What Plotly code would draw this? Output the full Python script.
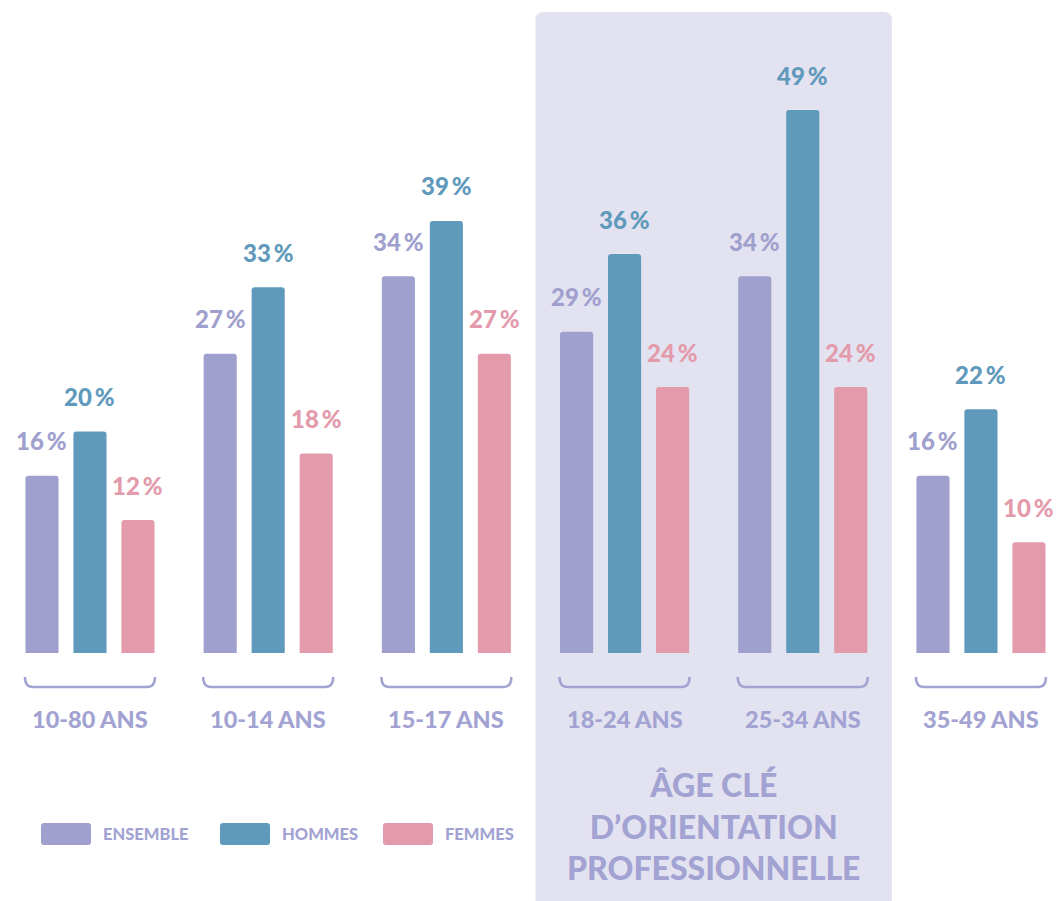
import plotly.graph_objects as go

categories = ["10-80 ANS", "10-14 ANS", "15-17 ANS", "18-24 ANS", "25-34 ANS", "35-49 ANS"]
series_names = ["ENSEMBLE", "HOMMES", "FEMMES"]
ensemble = [16, 27, 34, 29, 34, 16]
hommes = [20, 33, 39, 36, 49, 22]
femmes = [12, 18, 27, 24, 24, 10]
highlight_note = ["ÂGE CLÉ", "D’ORIENTATION", "PROFESSIONNELLE"]

colors = ["#9fa0cd", "#5f99bb", "#e39aaa"]
text_col = "#a2a3d2"
bg_high = "#e3e2f0"
FONT = "Lato"

W, H = 1059, 901
BOTTOM = 248
PX_PER_UNIT = 11.08
BARGAP = 0.192
slot = (1 - BARGAP) / 3

fig = go.Figure()
values = [ensemble, hommes, femmes]
idx = list(range(len(categories)))
for k, (name, vals) in enumerate(zip(series_names, values)):
    fig.add_trace(go.Bar(
        x=idx, y=vals, name=name,
        marker=dict(color=colors[k], cornerradius=3, line=dict(width=0)),
        showlegend=False, hoverinfo="skip",
    ))

annotations = []
# value labels
for k, vals in enumerate(values):
    for i, v in enumerate(vals):
        annotations.append(dict(
            x=i + (k - 1) * slot, y=v, xref="x", yref="y",
            text=f"{v}\u2009%", showarrow=False, yshift=35,
            yanchor="middle", xanchor="center",
            font=dict(family=FONT, size=24, color=colors[k], weight=900),
        ))

plot_h = H - BOTTOM
def py(px):
    return (plot_h - px) / plot_h

# category labels
for i, c in enumerate(categories):
    annotations.append(dict(
        x=i, y=py(719), xref="x", yref="paper", text=c, showarrow=False,
        yanchor="middle", xanchor="center",
        font=dict(family=FONT, size=23.5, color=text_col, weight=900),
    ))

# highlight note
annotations.append(dict(
    x=3.5, y=py(826), xref="x", yref="paper", text="<br>".join(highlight_note),
    showarrow=False, yanchor="middle", xanchor="center", align="center",
    font=dict(family=FONT, size=32, color=text_col, weight=900),
))

shapes = []
# highlight background with rounded top corners
rx = 8 / 178.2
ry = 8 / plot_h
x0, x1 = 2.5, 4.5
yt, yb = py(12), py(905)
shapes.append(dict(
    type="path", xref="x", yref="paper", layer="below",
    path=(f"M {x0},{yb} L {x0},{yt - ry} Q {x0},{yt} {x0 + rx},{yt} "
          f"L {x1 - rx},{yt} Q {x1},{yt} {x1},{yt - ry} L {x1},{yb} Z"),
    fillcolor=bg_high, line=dict(width=0),
))

# brackets under groups
hw = 65 / 178.2
bt, bb = py(677), py(687)
cr = 8 / 178.2
for i in idx:
    shapes.append(dict(
        type="path", xref="x", yref="paper",
        path=(f"M {i - hw},{bt} Q {i - hw},{bb} {i - hw + cr},{bb} "
              f"L {i + hw - cr},{bb} Q {i + hw},{bb} {i + hw},{bt}"),
        line=dict(color=text_col, width=2.5),
    ))

# custom legend (rounded swatches)
legend_pos = [(41, 101), (220, 280), (383, 443)]
lr_x, lr_y = 3 / W, 3 / plot_h
for k, name in enumerate(series_names):
    sx, tx = legend_pos[k]
    a, b = sx / W, (sx + 50) / W
    t, bt2 = py(823), py(845)
    shapes.append(dict(
        type="path", xref="paper", yref="paper",
        path=(f"M {a + lr_x},{t} L {b - lr_x},{t} Q {b},{t} {b},{t - lr_y} "
              f"L {b},{bt2 + lr_y} Q {b},{bt2} {b - lr_x},{bt2} "
              f"L {a + lr_x},{bt2} Q {a},{bt2} {a},{bt2 + lr_y} "
              f"L {a},{t - lr_y} Q {a},{t} {a + lr_x},{t} Z"),
        fillcolor=colors[k], line=dict(width=0),
    ))
    annotations.append(dict(
        x=tx / W, y=py(834), xref="paper", yref="paper", text=name,
        showarrow=False, xanchor="left", yanchor="middle",
        font=dict(family=FONT, size=16.5, color=text_col, weight=900),
    ))

fig.update_layout(
    width=W, height=H,
    margin=dict(l=0, r=0, t=0, b=BOTTOM, pad=0),
    paper_bgcolor="white", plot_bgcolor="rgba(0,0,0,0)",
    barmode="group", bargap=BARGAP, bargroupgap=0.31,
    xaxis=dict(range=[-0.505, 5.438], showticklabels=False, showgrid=False,
               zeroline=False, fixedrange=True),
    yaxis=dict(range=[0, plot_h / PX_PER_UNIT], showticklabels=False,
               showgrid=False, zeroline=False, fixedrange=True),
    shapes=shapes, annotations=annotations,
)

fig.write_html(
    "out.html",
    config={"displayModeBar": False},
    post_script="document.body.style.margin='0px';document.body.style.overflow='hidden';",
)
